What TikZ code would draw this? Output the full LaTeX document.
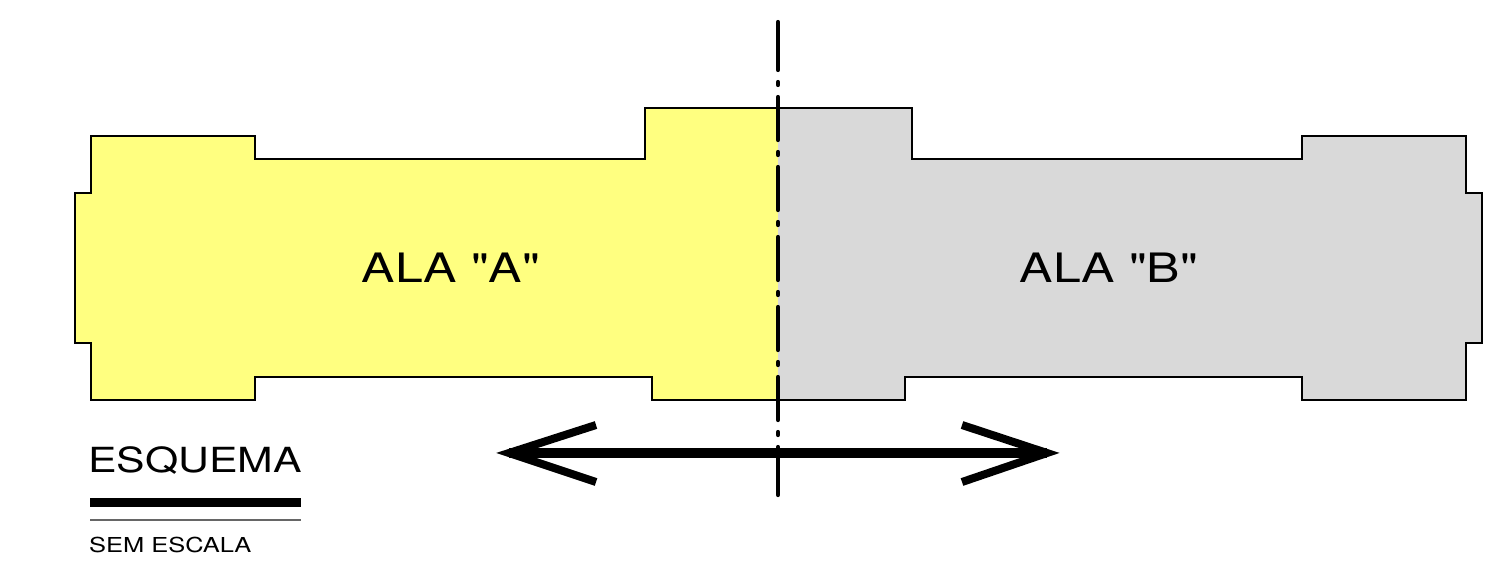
\documentclass[tikz,border=0pt]{standalone}
\usepackage{fontspec}
\setmainfont[FakeStretch=1.235,Ligatures=TeXOff]{TeX Gyre Heros}
\definecolor{alaA}{HTML}{FFFF80}
\definecolor{alaB}{HTML}{D9D9D9}
\tikzset{
  wing/.style={draw=black,line width=1.7pt,line join=miter},
  axisline/.style={line width=4.2pt,line cap=round,black},
  axisdash/.style={axisline,dash pattern=on 43pt off 12pt on 3pt off 12pt},
  shaft/.style={line width=10pt,black},
  barb/.style={line width=8pt,black,miter limit=10,line join=miter},
  lbl/.style={inner sep=0pt,text=black},
}
\begin{document}
\begin{tikzpicture}[x=1pt,y=-1pt]
\useasboundingbox (0,0) rectangle (1485,574);
\fill[white] (0,0) rectangle (1485,574);
\path[wing,fill=alaA] (778,108) -- (645,108) -- (645,159) -- (255,159) -- (255,136) -- (91,136) -- (91,193) -- (75,193) -- (75,343) -- (91,343) -- (91,400) -- (255,400) -- (255,377) -- (652,377) -- (652,400) -- (778,400);
\path[wing,fill=alaB] (778,108) -- (912,108) -- (912,159) -- (1302,159) -- (1302,136) -- (1466,136) -- (1466,193) -- (1482,193) -- (1482,343) -- (1466,343) -- (1466,400) -- (1302,400) -- (1302,377) -- (905,377) -- (905,400) -- (778,400);
\node[lbl,font=\fontsize{40.5}{41}\selectfont,anchor=base] (alaa) at (451,282) {ALA "A"};
\node[lbl,font=\fontsize{40.5}{41}\selectfont,anchor=base] (alab) at (1109,282) {ALA "B"};
\coordinate (tipL) at (509,453);
\coordinate (tipR) at (1047,453);
\coordinate (barbLa) at (596,425);
\coordinate (barbLb) at (596,482);
\coordinate (barbRa) at (962,425);
\coordinate (barbRb) at (962,482);
\draw[shaft] (tipL) -- (tipR);
\draw[barb] (barbLa) -- (tipL) -- (barbLb);
\draw[barb] (barbRa) -- (tipR) -- (barbRb);
\coordinate (axTop) at (778,22);
\coordinate (axA) at (778,27);
\coordinate (axB) at (778,490);
\coordinate (axBot) at (778,495);
\draw[axisline] (axTop) -- (axA);
\draw[axisdash] (axA) -- (axB);
\draw[axisline] (axB) -- (axBot);
\node[lbl,font=\fontsize{34.6}{35}\selectfont,anchor=base west] (esq) at (88,472) {ESQUEMA};
\coordinate (ba) at (90,502);
\coordinate (bb) at (301,502);
\draw[line width=9pt,black] (ba) -- (bb);
\coordinate (ta) at (90,520);
\coordinate (tb) at (301,520);
\draw[line width=1.3pt,black!60] (ta) -- (tb);
\node[lbl,font=\fontsize{20.6}{21}\selectfont,anchor=base west] (sem) at (89,552) {SEM ESCALA};
\end{tikzpicture}
\end{document}
